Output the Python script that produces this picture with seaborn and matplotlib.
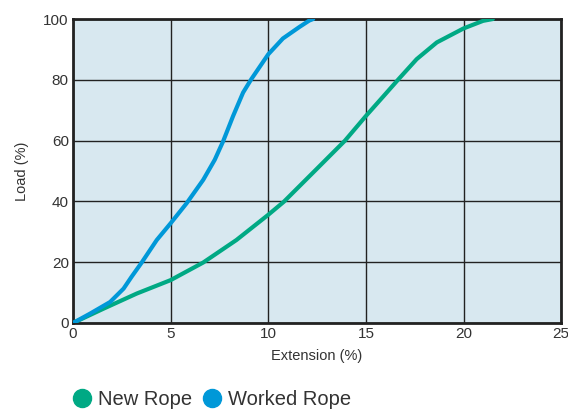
import numpy as np
import pandas as pd
import matplotlib
matplotlib.use('Agg')
import matplotlib.pyplot as plt
import seaborn as sns
from matplotlib.lines import Line2D

# readings taken off the reference chart
new_ext = [0, 1.56, 3.27, 5.0, 6.67, 8.37, 10.0, 10.8, 12.5, 13.93, 15.0,
           15.9, 16.67, 17.6, 18.63, 20.0, 21.0, 21.5]
new_load = [0, 4.7, 9.7, 14.1, 19.9, 27.3, 35.6, 39.9, 50.8, 60.0, 68.1,
            74.6, 80.2, 86.8, 92.3, 96.9, 99.4, 100]

worked_ext = [0, 0.88, 1.9, 2.59, 3.0, 3.52, 4.29, 5.0, 5.82, 6.67, 7.26,
              7.69, 8.2, 8.71, 9.13, 10.0, 10.75, 11.6, 12.1, 12.3]
worked_load = [0, 3.1, 6.9, 11.3, 15.2, 19.9, 27.3, 32.8, 39.4, 47.1, 53.7,
               59.8, 68.1, 75.8, 80.2, 88.4, 93.6, 97.4, 99.5, 100]

series_names = ['New Rope', 'Worked Rope']
colors = ['#00a984', '#0098d8']

df = pd.concat([
    pd.DataFrame({'ext': new_ext, 'load': new_load, 'rope': series_names[0]}),
    pd.DataFrame({'ext': worked_ext, 'load': worked_load, 'rope': series_names[1]}),
])

sns.set_style('white')
plt.rcParams['font.family'] = ['Liberation Sans', 'DejaVu Sans']

fig = plt.figure(figsize=(5.68, 4.09), dpi=100)
ax = fig.add_axes([0.1285, 0.2103, 0.8595, 0.7432])
ax.set_facecolor('#d8e8f0')

sns.lineplot(data=df, x='ext', y='load', hue='rope', palette=colors,
             linewidth=3, sort=False, legend=False, ax=ax, zorder=3)
for ln in ax.lines:
    ln.set_solid_joinstyle('round')
    ln.set_solid_capstyle('round')

ax.set_xlim(0, 25)
ax.set_ylim(0, 100)
ax.set_xticks(range(0, 26, 5))
ax.set_yticks(range(0, 101, 20))
ax.grid(True, color='#222222', linewidth=1.0)
ax.set_axisbelow(True)
for s in ax.spines.values():
    s.set_color('#222222')
    s.set_linewidth(2)
ax.tick_params(length=0, labelsize=11, labelcolor='#333333', pad=3)
ax.set_xlabel('Extension (%)', fontsize=10.5, color='#333333', labelpad=6)
ax.set_ylabel('Load (%)', fontsize=10.5, color='#333333', labelpad=10)

handles = [Line2D([], [], marker='o', linestyle='', markersize=13,
                  color=c) for c in colors]
fig.legend(handles, series_names, loc='lower left', bbox_to_anchor=(0.094, -0.045),
           ncol=2, frameon=False, fontsize=14.5, handlelength=1.0,
           handletextpad=0.3, columnspacing=0.5, labelcolor='#333333')

fig.savefig('out.png', dpi=100)
